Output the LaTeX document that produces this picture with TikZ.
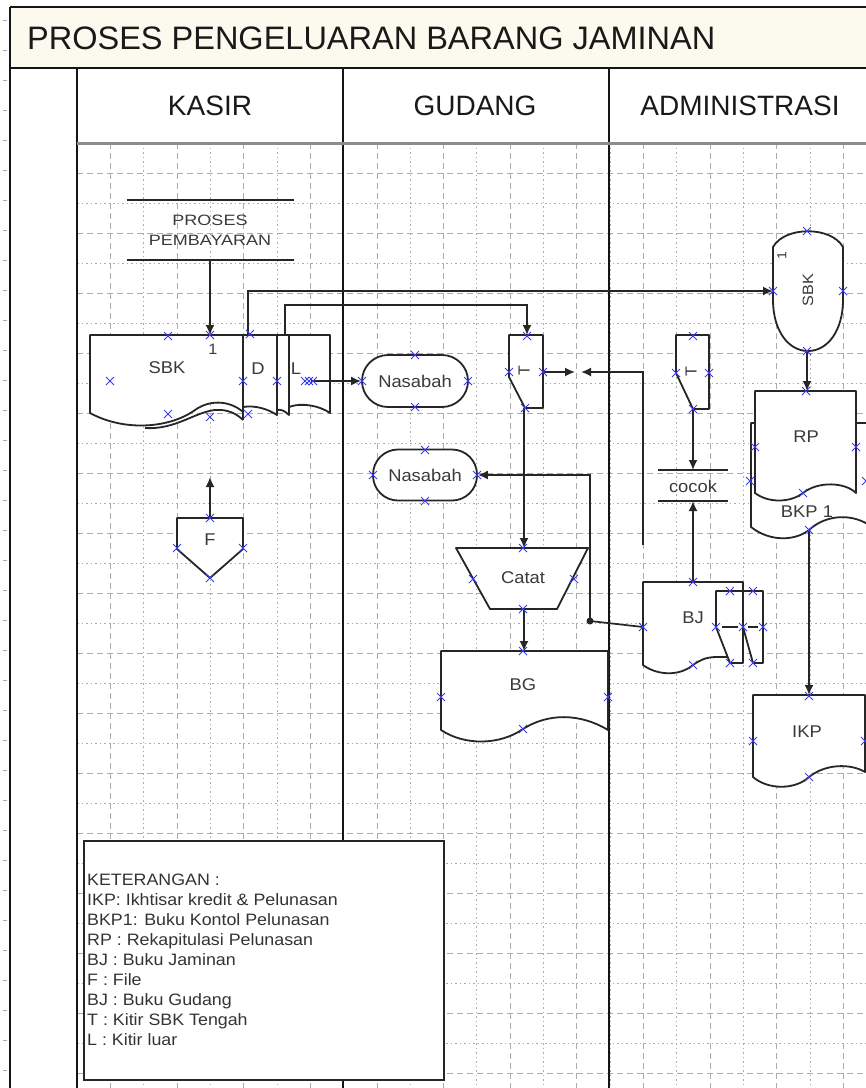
\documentclass[tikz,border=0pt]{standalone}
\usepackage{fontspec}
\setmainfont{Liberation Sans}
\newfontfamily\wideA[FakeStretch=1.2]{Liberation Sans}
\newfontfamily\wideB[FakeStretch=1.08]{Liberation Sans}
\usetikzlibrary{arrows.meta}
\definecolor{ink}{HTML}{262626}
\definecolor{txt}{HTML}{3A3A3A}
\definecolor{gridc}{HTML}{ABABAB}
\definecolor{cream}{HTML}{FCF9EE}
\definecolor{xblue}{HTML}{3A3AF5}
\tikzset{
  shp/.style={draw=ink, line width=1.8pt, line join=round, fill=white},
  edge/.style={draw=ink, line width=1.8pt},
  conn/.style={draw=ink, line width=1.7pt},
  arr/.style={conn, -{Latex[length=10pt,width=9pt]}},
  lbl/.style={text=txt, font=\wideB\fontsize{17}{20}\selectfont, inner sep=0pt},
  hdr/.style={text=black!90, font=\fontsize{28}{32}\selectfont, inner sep=0pt},
  lane/.style={draw=black!92, line width=1.6pt},
  gdash/.style={draw=gridc, line width=1pt, dash pattern=on 6pt off 4pt},
  gdot/.style={draw=gridc, line width=1pt, dash pattern=on 1.5pt off 3pt},
  xm/.pic={\draw[xblue, line width=1pt] (-4,-4) -- (4,4) (-4,4) -- (4,-4);},
}
\begin{document}
\begin{tikzpicture}[x=1pt,y=-1pt]
\useasboundingbox (0,0) rectangle (866,1088);
\clip (0,0) rectangle (866,1088);
% backgrounds
\fill[white] (0,0) rectangle (866,1088);
\fill[cream] (10,7) rectangle (866,68);
% left ruler ticks
\foreach \y in {20,50,...,1080} \draw[gridc, line width=0.8pt] (3,\y) -- (7,\y);
% grid
\foreach \y in {173,233,...,1088} \draw[gdash] (77,\y) -- (866,\y);
\foreach \y in {203,263,...,1088} \draw[gdot] (77,\y) -- (866,\y);
\foreach \k in {1,3,...,23} \draw[gdash] ({77+33.333*\k},143) -- ({77+33.333*\k},1088);
\foreach \k in {2,4,...,24} \draw[gdot] ({77+33.333*\k},143) -- ({77+33.333*\k},1088);
% lanes
\draw[lane] (10,7) -- (10,1088);
\draw[lane] (10,7) -- (866,7);
\draw[lane] (10,68) -- (866,68);
\draw[lane] (77,68) -- (77,1088);
\draw[lane] (343,68) -- (343,1088);
\draw[lane] (609,68) -- (609,1088);
\draw[draw=black!45, line width=3pt] (77,143) -- (866,143);
% title and headers
\node[anchor=west, inner sep=0pt, text=black!90, font=\fontsize{32.5}{36}\selectfont] (title) at (27,38) {PROSES PENGELUARAN BARANG JAMINAN};
\node[hdr] (hkasir) at (210,106) {KASIR};
\node[hdr] (hgudang) at (475,106) {GUDANG};
\node[hdr] (hadmin) at (740,106) {ADMINISTRASI};

% ---------- KASIR ----------
\draw[edge] (127,200) -- (294,200) (127,260) -- (294,260);
\node[lbl, align=center, font=\wideA\fontsize{15}{20}\selectfont] (pp) at (210,230) {PROSES\\PEMBAYARAN};
% SBK multi document
\path[shp] (289,335) -- (330,335) -- (330,413) .. controls (320,406) and (302,402) .. (289,407) -- cycle;
\path[shp] (277,335) -- (289,335) -- (289,415) .. controls (285,411) and (281,409) .. (277,410) -- cycle;
\path[shp] (243,335) -- (277,335) -- (277,415) .. controls (268,409) and (255,405) .. (243,407) -- cycle;
\path[shp] (90,335) -- (243,335) -- (243,412) .. controls (232,402) and (212,398) .. (195,410) .. controls (170,428) and (125,432) .. (90,413) -- cycle;
\draw[edge] (145,428) .. controls (175,430) and (195,412) .. (215,410) .. controls (228,409) and (237,414) .. (243,420);
\draw[edge] (243,405) -- (243,420);
\node[lbl, font=\wideB\fontsize{15}{18}\selectfont] (sbk1) at (213,349) {1};
\node[lbl] (sbklbl) at (167,368) {SBK};
\node[lbl] (dlbl) at (258,369) {D};
\node[lbl] (llbl) at (296,369) {L};
% F
\path[shp] (177,518) -- (243,518) -- (243,549) -- (210,578) -- (177,549) -- cycle;
\node[lbl] (flbl) at (210,540) {F};

% ---------- GUDANG ----------
\node[shp, lbl, rounded corners=26pt, minimum width=106pt, minimum height=52pt] (nas1) at (415,381) {Nasabah};
\node[shp, lbl, rounded corners=25pt, minimum width=104pt, minimum height=51pt] (nas2) at (425,475) {Nasabah};
\path[shp] (509,335) -- (543,335) -- (543,408) -- (525,408) -- (509,377) -- cycle;
\node[lbl, rotate=90, font=\fontsize{16}{16}\selectfont] (t1lbl) at (524,371) {T};
\path[shp] (456,548) -- (588,548) -- (557,609) -- (490,609) -- cycle;
\node[lbl] (catat) at (523,578) {Catat};
\path[shp] (441,651) -- (608,651) -- (608,730) .. controls (580,713) and (548,713) .. (523,729) .. controls (500,745) and (465,746) .. (441,730) -- cycle;
\node[lbl] (bglbl) at (523,685) {BG};

% ---------- ADMINISTRASI ----------
\path[shp] (773,247) .. controls (785,226) and (831,226) .. (843,247) -- (843,300) .. controls (843,330) and (828,351) .. (808,351) .. controls (788,351) and (773,330) .. (773,300) -- cycle;
\node[lbl, rotate=90, font=\wideB\fontsize{15}{18}\selectfont] (sbk2lbl) at (808,290) {SBK};
\node[lbl, rotate=90, font=\wideB\fontsize{13}{15}\selectfont] (sbk2one) at (782,256) {1};
\path[shp] (751,423) -- (872,423) -- (872,527) .. controls (852,512) and (825,515) .. (809,530) .. controls (795,541) and (770,542) .. (751,527) -- cycle;
\node[lbl] (bkplbl) at (807,512) {BKP 1};
\path[shp] (755,391) -- (856,391) -- (856,493) .. controls (845,482) and (818,481) .. (803,493) .. controls (790,503) and (768,503) .. (755,493) -- cycle;
\node[lbl] (rplbl) at (806,437) {RP};
\path[shp] (753,695) -- (865,695) -- (865,772) .. controls (850,763) and (825,764) .. (809,777) .. controls (795,790) and (768,790) .. (753,777) -- cycle;
\node[lbl] (ikplbl) at (807,732) {IKP};
\path[shp] (676,335) -- (709,335) -- (709,409) -- (693,409) -- (676,373) -- cycle;
\node[lbl, rotate=90, font=\fontsize{16}{16}\selectfont] (t2lbl) at (691,372) {T};
\draw[edge] (658,470) -- (728,470) (658,501) -- (728,501);
\node[lbl] (cocok) at (693,486) {cocok};
\path[shp] (643,582) -- (743,582) -- (743,657) -- (717,657) .. controls (706,657) and (700,660) .. (693,665) .. controls (680,676) and (658,676) .. (643,665) -- cycle;
\node[lbl] (bjlbl) at (693,618) {BJ};
\path[shp] (716,591) -- (743,591) -- (743,663) -- (730,663) -- (716,627) -- cycle;
\path[shp] (743,591) -- (763,591) -- (763,663) -- (753,663) -- (743,627) -- cycle;
\draw[edge, line width=1.3pt] (722,627) -- (738,627) (748,627) -- (758,627);

% ---------- legend ----------
\node[draw=ink, line width=2.2pt, fill=white, inner sep=0pt, minimum width=360pt, minimum height=239pt, anchor=north west] (legbox) at (83,840) {};
\foreach \t [count=\i from 0] in {KETERANGAN :, IKP: Ikhtisar kredit \& Pelunasan, BKP1: Buku Kontol Pelunasan, RP : Rekapitulasi Pelunasan, BJ : Buku Jaminan, F : File, BJ : Buku Gudang, T : Kitir SBK Tengah, L : Kitir luar}
  \node[anchor=base west, inner sep=0pt, text=black!80, font=\wideB\fontsize{16.5}{20}\selectfont] (leg\i) at (87,{885+20*\i}) {\t};

% ---------- connection points ----------
\coordinate (pp-s) at (210,260);
\coordinate (sbk-n) at (210,335);
\coordinate (sbk-d) at (248,335);
\coordinate (sbk-l) at (285,335);
\coordinate (sbk-e) at (311,381);
\coordinate (t1-n) at (527,335);
\coordinate (t1-e) at (543,372);
\coordinate (t1-s) at (524,408);
\coordinate (cat-n) at (524,548);
\coordinate (cat-s) at (524,609);
\coordinate (bg-n) at (524,651);
\coordinate (f-n) at (210,518);
\coordinate (f-end) at (210,477);
\coordinate (sbk2-w) at (773,291);
\coordinate (sbk2-s) at (807,351);
\coordinate (rp-n) at (807,391);
\coordinate (bkp-s) at (809,530);
\coordinate (ikp-n) at (809,695);
\coordinate (t2-s) at (693,409);
\coordinate (cc-n) at (693,470);
\coordinate (cc-s) at (693,501);
\coordinate (bj-n) at (693,582);
\coordinate (bj-w) at (643,627);
\coordinate (jn) at (590,621);
\coordinate (adm-end) at (643,545);
\coordinate (mid-r) at (581,372);
\coordinate (mid-l) at (575,372);

% ---------- connectors ----------
\draw[arr] (pp-s) -- (sbk-n);
\draw[arr] (sbk-d) |- (sbk2-w);
\draw[arr] (sbk-l) -- ++(0,-30) -| (t1-n);
\draw[arr] (sbk-e) -- (nas1.west);
\draw[arr] (t1-e) -- (mid-l);
\draw[arr] (adm-end) |- (mid-r);
\draw[arr] (t1-s) -- (cat-n);
\draw[arr] (cat-s) -- (bg-n);
\draw[arr] (f-n) -- (f-end);
\draw[conn] (bj-w) -- (jn);
\fill[ink] (jn) circle (3.5);
\draw[arr] (jn) |- (nas2.east);
\draw[arr] (sbk2-s) -- (rp-n);
\draw[arr] (bkp-s) -- (ikp-n);
\draw[arr] (t2-s) -- (cc-n);
\draw[arr] (bj-n) -- (cc-s);

% ---------- connection marks ----------
\foreach \a/\b in {168/336, 210/335, 250/334, 110/381, 243/381, 277/381, 305/381, 309/381, 313/381, 168/414, 210/417, 248/414,
  415/355, 362/381, 468/381, 415/407, 425/450, 373/475, 477/475, 425/501,
  527/336, 509/372, 543/372, 525/408, 523/548, 473/579, 574/579, 523/609,
  523/651, 441/697, 608/697, 523/729, 210/518, 177/548, 243/548, 210/578,
  807/231, 773/291, 843/291, 807/351, 806/391, 755/447, 856/447, 803/493,
  750/481, 809/530, 866/481, 809/696, 753/741, 865/741, 809/777,
  693/336, 676/373, 709/373, 693/409,
  693/582, 643/627, 693/665, 730/591, 753/591, 716/627, 743/627, 763/627, 730/663, 753/663}
  \pic at (\a,\b) {xm};
\end{tikzpicture}
\end{document}
